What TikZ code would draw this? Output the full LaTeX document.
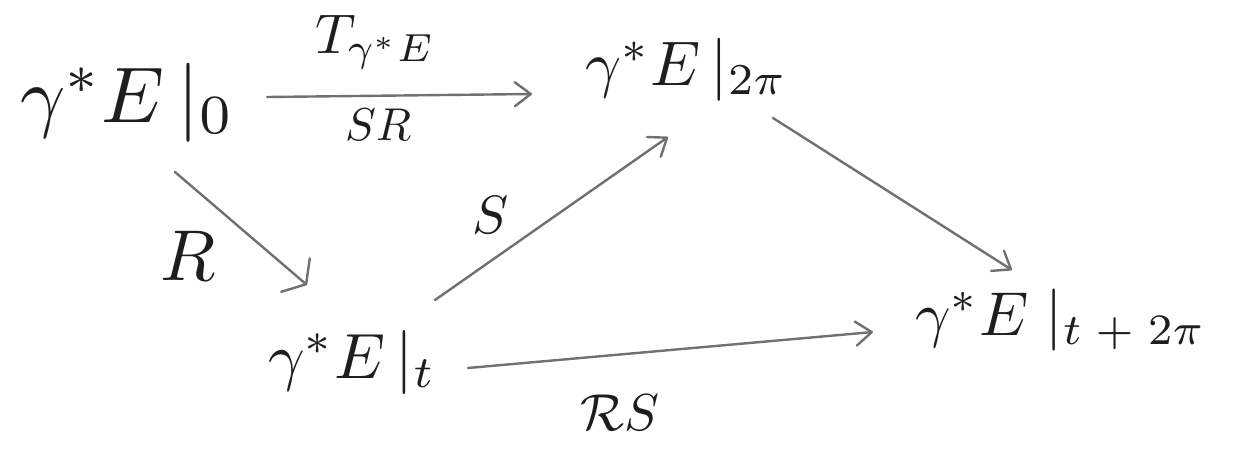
\documentclass[tikz,border=0pt]{standalone}
\usetikzlibrary{arrows.meta}
\definecolor{ink}{HTML}{1E1E1E}
\definecolor{pen}{HTML}{707070}
\begin{document}
\begin{tikzpicture}[x=1pt,y=-1pt,
  term/.style={inner sep=0pt, outer sep=0pt, anchor=base west, text=ink},
  arr/.style={draw=pen, line width=2.4pt, line cap=round, line join=round,
    -{Straight Barb[length=16pt,width=24pt,round]}},
  hookarr/.style={draw=pen, line width=2.4pt, line cap=round, line join=round,
    -{Straight Barb[length=14pt,width=44pt,round]}}]
\useasboundingbox (0,0) rectangle (1242,456);
% objects
\node[term, scale=7.9] (A) at (20,122) {$\gamma^{*}E\,|_{0}$};
\node[term, scale=6.3] (B) at (585,85) {$\gamma^{*}E\,|_{2\pi}$};
\node[term, scale=6.4] (C) at (268,378) {$\gamma^{*}E\,|_{t}$};
\node[term, scale=6.2] (D) at (915,335) {$\gamma^{*}E\;|_{t\;+\;2\pi}$};
% labels
\node[term, scale=5.6] (lT) at (315,53) {$T_{\gamma^{*}E}$};
\node[term, scale=4.6] (lSR) at (345,140) {$SR$};
\node[term, scale=7.2] (lR) at (160,280) {$R$};
\node[term, scale=5.4] (lS) at (472,233) {$S$};
\node[term, scale=5.2] (lRS) at (580,430) {$\mathcal{R}S$};
% connectors
\draw[arr] ([shift={(247,-25)}]A.base west) -- ([shift={(-53,9)}]B.base west);
\draw[hookarr] ([shift={(155,50)}]A.base west) -- ([shift={(39,-93)}]C.base west);
\draw[arr] ([shift={(167,-78)}]C.base west) -- ([shift={(83,52)}]B.base west);
\draw[arr] ([shift={(188,33)}]B.base west) -- ([shift={(97,-65)}]D.base west);
\draw[arr] ([shift={(200,-10)}]C.base west) -- ([shift={(-42,-3)}]D.base west);
\end{tikzpicture}
\end{document}
